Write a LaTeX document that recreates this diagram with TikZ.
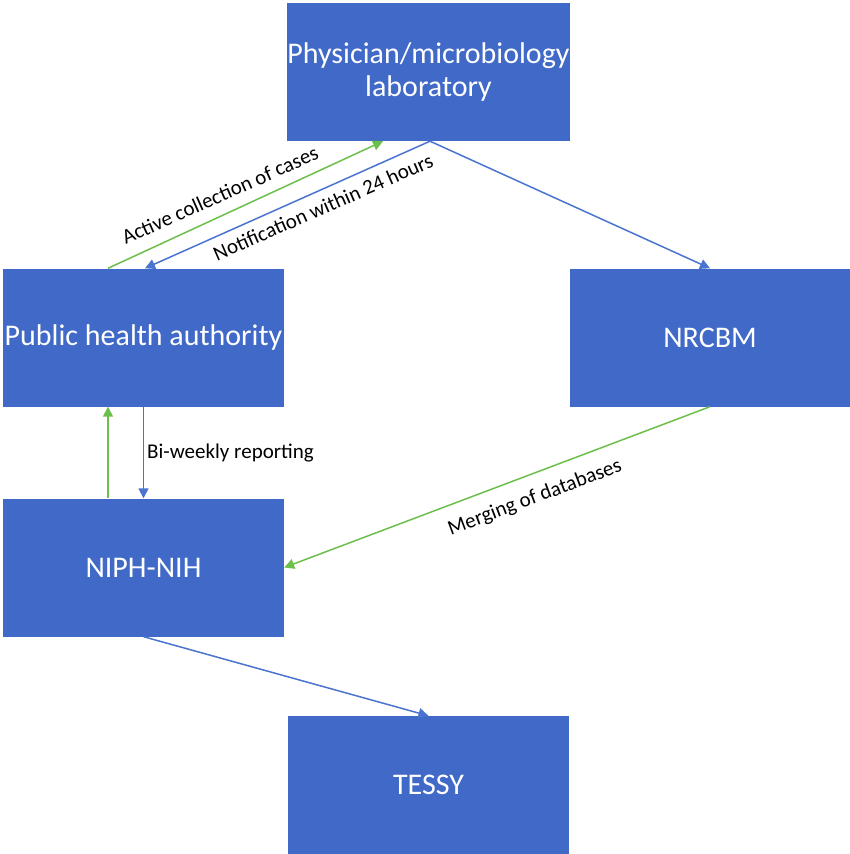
\documentclass[tikz,border=0pt]{standalone}
\usepackage{fontspec}
\setmainfont{Carlito}
\usetikzlibrary{arrows.meta}
\definecolor{boxblue}{HTML}{4069C8}
\definecolor{lineblue}{HTML}{4A74D0}
\definecolor{linegreen}{HTML}{6CBF4A}

\begin{document}
\begin{tikzpicture}[x=1pt, y=-1pt,
    blk/.style={fill=boxblue, text=white, minimum width=281pt, minimum height=138pt, inner sep=0pt, align=center, font=\fontsize{30}{33}\selectfont},
    bluearr/.style={draw=lineblue, line width=1.5pt, -{Triangle[length=10pt,width=10pt]}},
    greenarr/.style={draw=linegreen, line width=1.5pt, -{Triangle[length=10pt,width=10pt]}},
    lbl/.style={font=\fontsize{21}{24}\selectfont, text=black, inner sep=0pt}]
        \useasboundingbox (0, 0) rectangle (850, 854);
        \path (428.5, 72) node[blk](phys) {Physician/microbiology\\laboratory} (143.5, 337.5) node[blk](pha) {Public health authority} (710, 337.5) node[blk](nrcbm) {NRCBM} (143.5, 567.5) node[blk](niph) {NIPH-NIH} (428.5, 785) node[blk](tessy) {TESSY};
        \draw[greenarr] ([xshift=-35.5pt]pha.north) -- ([xshift=-45.5pt]phys.south);
        \draw[bluearr] ([xshift=1.5pt]phys.south) -- ([xshift=1.5pt]pha.north);
        \draw[bluearr] ([xshift=1.5pt]phys.south) -- (nrcbm.north);
        \draw[greenarr] (nrcbm.south) -- (niph.east);
        \draw[bluearr] (pha.south) -- (niph.north);
        \draw[greenarr] ([xshift=-35.5pt]niph.north) -- ([xshift=-35.5pt]pha.south);
        \draw[bluearr] (niph.south) -- (tessy.north);
        \path (220, 195) node[lbl, rotate=24](active) {Active collection of cases} (323, 207) node[lbl, rotate=23.7](notif) {Notification within 24 hours} (147, 453) node[lbl, anchor=west](biweek) {Bi-weekly reporting} (535, 498) node[lbl, rotate=20.6](merge) {Merging of databases};
    \end{tikzpicture}
\end{document}
